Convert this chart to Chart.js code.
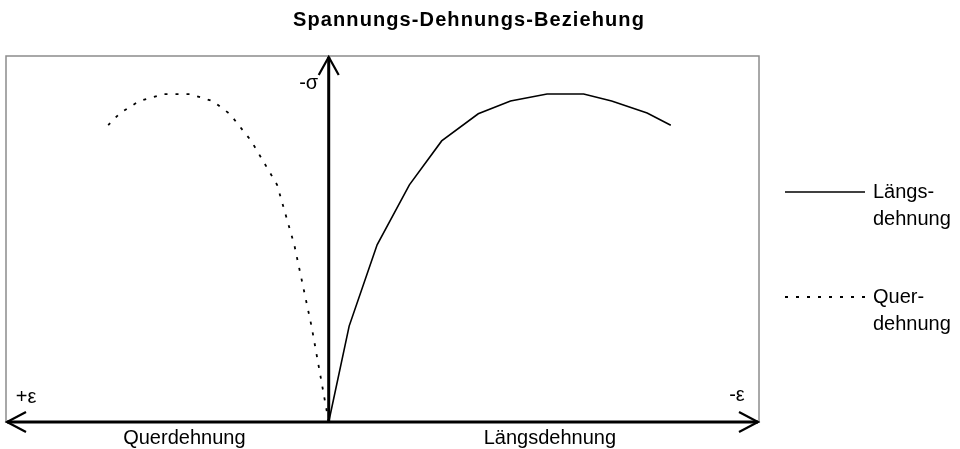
<!DOCTYPE html>
<html lang="de">
<head>
<meta charset="utf-8">
<title>Spannungs-Dehnungs-Beziehung</title>
<script src="https://cdn.jsdelivr.net/npm/chart.js@4.4.1/dist/chart.umd.min.js"></script>
<style>
	html, body { margin:0; padding:0; background:#fff; }
	#wrap { width:960px; height:449px; position:relative; }
</style>
</head>
<body>
<div id="wrap"><canvas id="sdChart" width="960" height="449"></canvas></div>
<script>
// Spannungsstufen, gelten fuer beide Kurven
var stressLevels = [0, 26.2, 48.4, 64.8, 76.8, 84.2, 87.7, 89.6, 89.6, 87.7, 84.4, 81.1];
// Laengsdehnung (nach rechts, -ε)
var strainLong = [0, 0.19, 0.45, 0.75, 1.05, 1.39, 1.69, 2.03, 2.37, 2.63, 2.96, 3.18];
// Querdehnung (nach links, +ε)
var strainTrans = [0, -0.16, -0.32, -0.48, -0.72, -0.92, -1.08, -1.29, -1.53, -1.76, -1.94, -2.05];
var seriesNames = ["Längsdehnung", "Querdehnung"];
var legendLines = [["Längs-", "dehnung"], ["Quer-", "dehnung"]];
var chartTitle = "Spannungs-Dehnungs-Beziehung";
var axisText = ["-σ", "+ε", "-ε"];

var FONT = '"Liberation Sans", Arial, sans-serif';

function ToPoints(xs) {
	return xs.map(function (x, i) {
		return {x:x, y:stressLevels[i]};
	});
}
// offener Pfeilkopf, Spitze bei (x,y), Richtung (dx,dy)
function ArrowHead(ctx, x, y, dx, dy, len, half) {
	var px = -dy, py = dx;
	ctx.beginPath();
	ctx.moveTo(x - dx * len + px * half, y - dy * len + py * half);
	ctx.lineTo(x, y);
	ctx.lineTo(x - dx * len - px * half, y - dy * len - py * half);
	ctx.stroke();
}
const sdPlugin = {
	id:'sdAxes',
	beforeDatasetsDraw(chart) {
		const ctx = chart.ctx, a = chart.chartArea;
		ctx.save();
		ctx.strokeStyle = '#8c8c8c';
		ctx.lineWidth = 1.5;
		ctx.strokeRect(a.left, a.top, a.right - a.left, a.bottom - a.top);
		ctx.restore();
	},
	afterDatasetsDraw(chart) {
		const ctx = chart.ctx, a = chart.chartArea;
		const x0 = chart.scales.x.getPixelForValue(0);
		const y0 = chart.scales.y.getPixelForValue(0);
		ctx.save();
		ctx.strokeStyle = '#000';
		ctx.lineCap = 'butt';
		// Achsen
		ctx.lineWidth = 3;
		ctx.beginPath();
		ctx.moveTo(a.left + 1, y0);
		ctx.lineTo(a.right - 1, y0);
		ctx.moveTo(x0, y0);
		ctx.lineTo(x0, a.top + 1);
		ctx.stroke();
		ctx.lineWidth = 2.2;
		ArrowHead(ctx, x0, a.top + 1, 0, -1, 18, 10);
		ArrowHead(ctx, a.left + 1, y0, -1, 0, 19, 10);
		ArrowHead(ctx, a.right - 1, y0, 1, 0, 19, 10);
		// Beschriftungen
		ctx.fillStyle = '#000';
		ctx.font = '20px ' + FONT;
		ctx.textBaseline = 'middle';
		ctx.textAlign = 'center';
		ctx.fillText(axisText[0], x0 - 20, a.top + 27);
		ctx.fillText(axisText[1], a.left + 20, y0 - 25);
		ctx.fillText(axisText[2], a.right - 22, y0 - 27);
		ctx.fillText(seriesNames[1], (a.left + x0) / 2 + 17, y0 + 16);
		ctx.fillText(seriesNames[0], (x0 + a.right) / 2 + 6, y0 + 16);
		// Titel
		ctx.font = 'bold 20px ' + FONT;
		ctx.letterSpacing = '1.1px';
		ctx.fillText(chartTitle, 469, 20);
		ctx.letterSpacing = '0px';
		// Legende
		const lx = a.right + 26, tx = a.right + 114;
		const ly = [192, 297];
		chart.data.datasets.forEach(function (ds, i) {
			ctx.save();
			ctx.lineWidth = ds.borderWidth;
			ctx.setLineDash(ds.borderDash || []);
			ctx.beginPath();
			ctx.moveTo(lx, ly[i]);
			ctx.lineTo(lx + 80, ly[i]);
			ctx.stroke();
			ctx.restore();
			ctx.font = '20px ' + FONT;
			ctx.textAlign = 'left';
			ctx.fillText(legendLines[i][0], tx, ly[i]);
			ctx.fillText(legendLines[i][1], tx, ly[i] + 27);
		});
		ctx.restore();
	}
};
function DrawChart() {
	const ctx = document.getElementById('sdChart').getContext('2d');
	const sdChart = new Chart(ctx, {
		type:'line',
		data:{
			datasets:[
				{
					label:seriesNames[0],
					data:ToPoints(strainLong),
					borderColor:'#000',
					borderWidth:1.6,
					pointRadius:0,
					tension:0,
					fill:false
				}, {
					label:seriesNames[1],
					data:ToPoints(strainTrans),
					borderColor:'#000',
					borderWidth:1.8,
					borderDash:[3, 8],
					pointRadius:0,
					tension:0,
					fill:false
				}
			]
		},
		options:{
			responsive:false,
			animation:false,
			layout:{
				padding:{left:6, top:56, right:201, bottom:27}
			},
			scales:{
				x:{type:'linear', min:-3, max:4, display:false},
				y:{type:'linear', min:0, max:100, display:false}
			},
			plugins:{
				legend:{display:false},
				title:{display:false},
				tooltip:{enabled:false}
			}
		},
		plugins:[sdPlugin]
	});
}
DrawChart();
</script>
</body>
</html>
